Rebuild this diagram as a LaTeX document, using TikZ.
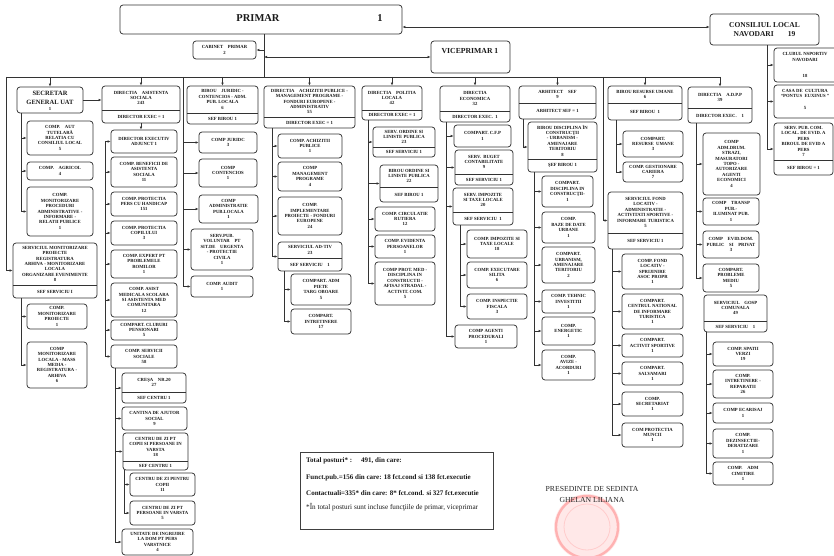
\documentclass[tikz,border=0pt]{standalone}
\usepackage{fontspec}
\setmainfont{Liberation Serif}
\usetikzlibrary{arrows.meta,fit,calc}
\tikzset{
 boxl/.style={draw=black!80, line width=0.75pt, rounded corners=3pt, inner sep=0pt},
 txt/.style={font=\fontsize{4.7}{5.4}\selectfont\bfseries, align=center, inner sep=0pt, text=black!90},
 lt/.style={font=\fontsize{7}{8}\selectfont\bfseries, inner sep=0pt, anchor=base west, text=black!90},
 conn/.style={draw=black!80, line width=0.7pt},
 arr/.style={conn, -{Latex[length=3pt,width=2.6pt]}},
 arrb/.style={conn, {Latex[length=3pt,width=2.6pt]}-{Latex[length=3pt,width=2.6pt]}},
}
\newcommand\mybox[6]{%
  \node[boxl, fit={(#2,#3)(#4,#5)}] (#1) {};
  \node[txt] (#1-t) at (#1.center) {#6};}
\newcommand\mysbox[8]{%
  \node[boxl, fit={(#2,#3)(#4,#5)}] (#1) {};
  \coordinate (#1-d) at (#2,#6);
  \draw[conn] (#1-d) -- (#1-d -| #1.east);
  \node[txt] (#1-t) at ($(#2,#3)!0.5!(#4,#6)$) {#7};
  \node[txt] (#1-b) at ($(#2,#6)!0.5!(#4,#5)$) {#8};}
\newcommand\myspine[4]{%
  \coordinate (sx) at (#1,0);
  \draw[conn] (#2 -| sx) -- (#3.west -| sx);
  \foreach \n in {#4}{\draw[arr] (\n.west -| sx) -- (\n.west);}}
\begin{document}
\begin{tikzpicture}[x=1pt,y=-1pt]
\useasboundingbox (0,0) rectangle (834,556);
\fill[white] (0,0) rectangle (834,556);
% stamp
\fill[red!9] (587,527) circle (33);
\draw[red!30, line width=2.4pt] (587,527) circle (31);
\draw[red!20, line width=0.8pt] (587,527) circle (23);

% top
\node[boxl, fit={(120,5)(402,34)}] (primar) {};
\node[txt, font=\fontsize{10.5}{12}\selectfont\bfseries] (primar-t) at (258,18) {PRIMAR};
\node[txt, font=\fontsize{10.5}{12}\selectfont\bfseries] (primar-n) at (380,18) {1};
\node[boxl, fit={(710,14)(819,45)}] (cons) {};
\node[txt, font=\fontsize{7.5}{9.5}\selectfont\bfseries] (cons-t) at (cons.center) {CONSILIUL LOCAL\\NAVODARI\hspace{14pt}19};
\mybox{cab}{193}{41}{256}{59}{CABINET\quad PRIMAR\\2}
\node[boxl, fit={(431,41)(510,73)}] (vice) {};
\node[txt, font=\fontsize{7.7}{9}\selectfont\bfseries] (vice-t) at (470,51) {VICEPRIMAR 1};

% column 1
\node[boxl, fit={(17,87)(83,113)}] (sec) {};
\node[txt, font=\fontsize{6.5}{8.5}\selectfont\bfseries] (sec-t) at (50,98) {SECRETAR\\GENERAL UAT};
\node[txt] (sec-n) at (50,109) {1};
\mybox{c1a}{27}{121}{93}{155}{COMP.\quad AUT\\TUTELARĂ\\RELATIA CU\\CONSILIUL LOCAL\\5}
\mybox{c1b}{27}{162}{93}{180}{COMP.\quad AGRICOL\\4}
\mybox{c1c}{27}{187}{93}{236}{COMP.\\MONITORIZARE\\PROCEDURI\\ADMINISTRATIVE -\\INFORMARE -\\RELATII PUBLICE\\1}
\mysbox{smp}{13}{243}{97}{298}{285}{SERVICIUL MONITORIZARE\\PROIECTE\\REGISTRATURA\\ARHIVA - MONITORIZARE\\LOCALA\\ORGANIZARE EVENIMENTE\\8}{SEF SERVICIU I}
\mybox{c1d}{27}{304}{87}{329}{COMP.\\MONITORIZARE\\PROIECTE\\1}
\mybox{c1e}{27}{342}{87}{388}{COMP\\MONITORIZARE\\LOCALA - MASS\\MEDIA -\\REGISTRATURA -\\ARHIVA\\6}

% column 2
\mysbox{das}{102}{86}{180}{123}{110}{DIRECTIA\quad ASISTENTA\\SOCIALA\\243}{DIRECTOR EXEC = 1}
\mybox{dea}{111}{130}{177}{153}{DIRECTOR EXECUTIV\\ADJUNCT 1}
\mybox{c2a}{111}{157}{177}{187}{COMP. BENEFICII DE\\ASISTENTA\\SOCIALA\\11}
\mybox{c2b}{111}{192}{177}{216}{COMP. PROTECTIA\\PERS CU HANDICAP\\151}
\mybox{c2c}{111}{221}{177}{245}{COMP. PROTECTIA\\COPILULUI\\3}
\mybox{c2d}{111}{250}{177}{278}{COMP. EXPERT PT\\PROBLEMELE\\ROMILOR\\1}
\mybox{c2e}{111}{283}{177}{317}{COMP. ASIST\\MEDICALA SCOLARA\\SI ASISTENTA MED\\COMUNITARA\\12}
\mybox{c2f}{111}{320}{177}{340}{COMPART. CLUBURI\\PENSIONARI\\5}
\mybox{c2g}{111}{345}{177}{368}{COMP. SERVICII\\SOCIALE\\58}
\mysbox{cresa}{122}{373}{186}{403}{392}{CREŞA\quad NR.20\\27}{SEF CENTRU 1}
\mybox{cant}{122}{407}{187}{430}{CANTINA DE AJUTOR\\SOCIAL\\9}
\mysbox{czi}{123}{433}{188}{470}{461}{CENTRU DE ZI PT\\COPII SI PERSOANE IN\\VARSTA\\18}{SEF CENTRU 1}
\mybox{czc}{130}{473}{195}{496}{CENTRU DE ZI PENTRU\\COPII\\11}
\mybox{czv}{130}{501}{195}{525}{CENTRU DE ZI PT\\PERSOANE IN VARSTA\\5}
\mybox{unit}{122}{529}{193}{555}{UNITATE DE INGRIJIRE\\LA DOM PT PERS\\VARSTNICE\\4}

% column 3
\mysbox{jur}{187}{86}{258}{124}{113}{BIROU\quad JURIDIC -\\CONTENCIOS - ADM.\\PUB. LOCALA\\6}{SEF BIROU 1}
\mybox{c3a}{199}{132}{257}{153}{COMP JURIDC\\3}
\mybox{c3b}{199}{159}{257}{187}{COMP\\CONTENCIOS\\1}
\mybox{c3c}{199}{195}{258}{223}{COMP\\ADMINISTRATIE\\PUB.LOCALA\\1}
\mybox{c3d}{191}{229}{253}{270}{SERV.PUB.\\VOLUNTAR\quad PT\\SIT.DE\quad URGENTA\\- PROTECTIE\\CIVILA\\1}
\mybox{c3e}{191}{276}{253}{297}{COMP.\ AUDIT\\1}

% column 4
\mysbox{ach}{264}{86}{355}{128}{117}{DIRECTIA\quad ACHIZITII PUBLICE -\\MANAGEMENT PROGRAME -\\FONDURI EUROPENE -\\ADMINISTRATIV\\55}{DIRECTOR EXEC = 1}
\mybox{c4a}{278}{134}{342}{158}{COMP. ACHIZITII\\PUBLICE\\1}
\mybox{c4b}{278}{162}{342}{191}{COMP\\MANAGEMENT\\PROGRAME\\4}
\mybox{c4c}{278}{197}{342}{235}{COMP.\\IMPLEMENTARE\\PROIECTE - FONDURI\\EUROPENE\\24}
\mysbox{sadt}{278}{242}{342}{271}{258}{SERVICIUL AD-TIV\\23}{SEF SERVICIU\quad 1}
\mybox{c4d}{291}{274}{351}{305}{COMPART.\ ADM\\PIETE\\TARG OBOARE\\5}
\mybox{c4e}{291}{309}{351}{334}{COMPART.\\INTRETINERE\\17}

% column 5
\mysbox{pol}{362}{86}{422}{120}{110}{DIRECTIA\quad POLITIA\\LOCALA\\42}{DIRECTOR EXEC = 1}
\mysbox{sol}{373}{127}{435}{157}{147}{SERV.\ ORDINE SI\\LINISTE PUBLICA\\23}{SEF SERVICIU 1}
\mysbox{bol}{380}{165}{438}{202}{187}{BIROU ORDINE SI\\LINISTE PUBLICA\\22}{SEF BIROU 1}
\mybox{c5a}{375}{207}{435}{231}{COMP.\ CIRCULATIE\\RUTIERA\\12}
\mybox{c5b}{375}{235}{435}{258}{COMP.\ EVIDENTA\\PERSOANELOR\\1}
\mybox{c5c}{375}{262}{435}{305}{COMP PROT. MED -\\DISCIPLINA IN\\CONSTRUCTII -\\AFISAJ STRADAL -\\ACTIVIT. COM.\\5}

% column 6
\mysbox{eco}{440}{86}{510}{122}{111}{DIRECTIA\\ECONOMICA\\32}{DIRECTOR\ EXEC.\ \ 1}
\mybox{c6a}{454}{125}{511}{147}{COMPART. C.F.P\\1}
\mysbox{sbc}{455}{150}{513}{185}{174}{SERV.\ \ BUGET\\CONTABILITATE\\9}{SEF SERVICIU 1}
\mysbox{sit}{453}{188}{513}{225}{212}{SERV.\ IMPOZITE\\SI TAXE LOCALE\\20}{SEF SERVICIU\ \ 1}
\mybox{c6b}{467}{230}{527}{258}{COMP.\ IMPOZITE SI\\TAXE LOCALE\\18}
\mybox{c6c}{467}{262}{527}{288}{COMP.\ EXECUTARE\\SILITA\\6}
\mybox{c6d}{467}{294}{527}{319}{COMP.\ INSPECTIE\\FISCALA\\3}
\mybox{c6e}{455}{325}{517}{348}{COMP AGENTI\\PROCEDURALI\\1}

% column 7
\mysbox{arh}{519}{86}{596}{119}{103}{ARHITECT\quad SEF\\9}{ARHITECT SEF = 1}
\mysbox{bdc}{528}{122}{597}{172}{159}{BIROU DISCIPLINA ÎN\\CONSTRUCŢII\\- URBANISM -\\AMENAJARE\\TERITORIU\\8}{ŞEF BIROU 1}
\mybox{c7a}{542}{176}{593}{207}{COMPART.\\DISCIPLINA IN\\CONSTRUCŢII-\\1}
\mybox{c7b}{542}{212}{595}{243}{COMP.\\BAZE DE DATE\\URBANE\\1}
\mybox{c7c}{542}{247}{595}{283}{COMPART.\\URBANISM,\\AMENAJARE\\TERITORIU\\2}
\mybox{c7d}{542}{290}{595}{313}{COMP.\ TEHNIC\\INVESTITII\\1}
\mybox{c7e}{542}{317}{595}{345}{COMP.\\ENERGETIC\\1}
\mybox{c7f}{542}{350}{595}{380}{COMP.\\AVIZE -\\ACORDURI\\1}

% column 8
\mysbox{bru}{608}{86}{682}{120}{103}{BIROU RESURSE UMANE\\6}{SEF BIROU\ \ 1}
\mybox{c8a}{623}{131}{683}{157}{COMPART.\\RESURSE\ \ UMANE\\3}
\mybox{c8b}{623}{162}{683}{182}{COMP.\ GESTIONARE\\CARIERA\\7}
\mysbox{sfl}{608}{192}{683}{249}{233}{SERVICIUL FOND\\LOCATIV -\\ADMINISTRATIE -\\ACTIVITATI SPORTIVE -\\INFORMARE TURISTICA\\5}{SEF SERVICIU 1}
\mybox{c8c}{622}{254}{683}{289}{COMP.\ FOND\\LOCATIV -\\SPRIJINIRE\\ASOC PROPR\\1}
\mybox{c8d}{622}{294}{683}{329}{COMPART.\\CENTRUL NATIONAL\\DE INFORMARE\\TURISTICA\\1}
\mybox{c8e}{622}{334}{683}{357}{COMPART.\\ACTIVIT\ SPORTIVE\\1}
\mybox{c8f}{622}{362}{683}{385}{COMPART.\\SALVAMARI\\1}
\mybox{c8g}{622}{392}{683}{416}{COMP.\\SECRETARIAT\\1}
\mybox{c8h}{622}{423}{683}{447}{COM PROTECTIA\\MUNCII\\1}

% column 9
\mysbox{adpp}{688}{87}{752}{123}{108}{DIRECTIA\quad A.D.P.P\\39}{DIRECTOR EXEC.\quad 1}
\mybox{c9a}{703}{133}{760}{195}{COMP\\ADM.DRUM.\\STRAZI,\\MASURATORI\\TOPO -\\AUTORIZARE\\AGENTI\\ECONOMICI\\4}
\mybox{c9b}{703}{198}{759}{225}{COMP\quad TRANSP\\PUB.-\\ILUMINAT PUB.\\1}
\mybox{c9c}{703}{231}{759}{258}{COMP\quad EVID.DOM.\\PUBLIC\quad SI\quad PRIVAT\\3}
\mybox{c9d}{703}{264}{759}{292}{COMPART.\\PROBLEME\\MEDIU\\5}
\mysbox{sgc}{704}{295}{767}{332}{321}{SERVICIUL\quad GOSP\\COMUNALA\\49}{SEF SERVICIU\quad 1}
\mybox{c9e}{713}{342}{773}{366}{COMP.\ SPATII\\VERZI\\19}
\mybox{c9f}{713}{370}{773}{398}{COMP.\\INTRETINERE -\\REPARATII\\26}
\mybox{c9g}{713}{403}{773}{423}{COMP ECARISAJ\\1}
\mybox{c9h}{713}{429}{773}{458}{COMP.\\DEZINSECTIE-\\DERATIZARE\\1}
\mybox{c9i}{713}{462}{773}{485}{COMP.\quad ADM\\CIMITIRE\\1}

% column 10
\node[boxl, fit={(774,48)(837,82)}] (club) {};
\node[txt] (club-t) at (805,57) {CLUBUL NSPORTIV\\NAVODARI};
\node[txt] (club-n) at (805,76) {18};
\node[boxl, fit={(774,85)(837,118)}] (casa) {};
\node[txt] (casa-t) at (805,93.5) {CASA DE\ \ CULTURA\\“PONTUS\ \ EUXINUS ”};
\node[txt] (casa-n) at (805,108) {5};
\mysbox{spc}{774}{123}{833}{175}{160}{SERV. PUB. COM.\\LOCAL. DE EVID. A\\PERS\\BIROUL DE EVID A\\PERS\\7}{SEF BIROU = 1}

% top connectors
\coordinate (pcy) at (0,27);
\draw[arrb] (primar.east |- pcy) -- (cons.west |- pcy);
\coordinate (pv) at (264,0);
\coordinate (busL) at (6,77);
\coordinate (busR) at (adpp.north |- busL);
\draw[conn] (primar.south -| pv) -- (busL -| pv);
\draw[arr] (cab.east -| pv) -- (cab.east);
\draw[arrb] (vice.west -| pv) -- (vice.west);
\draw[conn] (busL) -- (busR);
\foreach \n in {sec,das,jur,ach,pol,eco,arh,bru,adpp}{\draw[arr] (\n.north |- busL) -- (\n.north);}
\draw[arr] (sec.east) -- (sec.east -| das.west);
\draw[arr] (das.south) -- (das.south |- dea.north);

% spines
\myspine{21}{sec.south}{c1c}{c1a,c1b,c1c}
\myspine{6}{busL}{smp}{smp}
\myspine{21}{smp.south}{c1e}{c1d,c1e}
\myspine{105}{dea.west}{c2g}{dea,c2a,c2b,c2c,c2d,c2e,c2f,c2g}
\myspine{115}{c2g.south}{unit}{cresa,cant,czi,unit}
\myspine{124}{czi.south}{czv}{czc,czv}
\myspine{183}{busL}{c3e}{c3a,c3b,c3c,c3d,c3e}
\myspine{272}{ach.south}{sadt}{c4a,c4b,c4c,sadt}
\myspine{284}{sadt.south}{c4e}{c4d,c4e}
\myspine{368}{pol.south}{c5c}{sol,bol,c5a,c5b,c5c}
\myspine{446}{eco.south}{c6e}{c6a,sbc,sit,c6e}
\myspine{460}{sit.south}{c6d}{c6b,c6c,c6d}
\myspine{523}{arh.south}{bdc}{bdc}
\myspine{534}{bdc.south}{c7f}{c7a,c7b,c7c,c7d,c7e,c7f}
\myspine{616}{bru.south}{c8b}{c8a,c8b}
\myspine{603}{busL}{sfl}{sfl}
\myspine{612}{sfl.south}{c8h}{c8c,c8d,c8e,c8f,c8g,c8h}
\myspine{696}{adpp.south}{c9d}{c9a,c9b,c9c,c9d}
\myspine{706}{sgc.south}{c9i}{c9e,c9f,c9g,c9h,c9i}
\myspine{767}{cons.south}{spc}{club,casa,spc}

% legend
\node[draw=black!75, line width=0.7pt, fit={(300,452)(493,529)}, inner sep=0pt] (leg) {};
\node[lt] (leg1) at (306,462) {Total posturi* :\hspace{9pt}491, din care:};
\node[lt] (leg2) at (306,479) {Funct.pub.=156 din care: 18 fct.cond si 138 fct.executie};
\node[lt] (leg3) at (306,495) {Contactuali=335* din care: 8* fct.cond. si 327 fct.executie};
\node[lt, font=\fontsize{7.2}{8}\selectfont] (leg4) at (306,509) {*În total posturi sunt incluse funcţiile de primar, viceprimar};

% signature
\node[inner sep=0pt, font=\fontsize{7.7}{9}\selectfont, text=black!85] (pres) at (592,489) {PRESEDINTE DE SEDINTA};
\node[inner sep=0pt, font=\fontsize{7.7}{9}\selectfont, text=black!85] (pname) at (592,500) {GHELAN LILIANA};
\end{tikzpicture}
\end{document}
